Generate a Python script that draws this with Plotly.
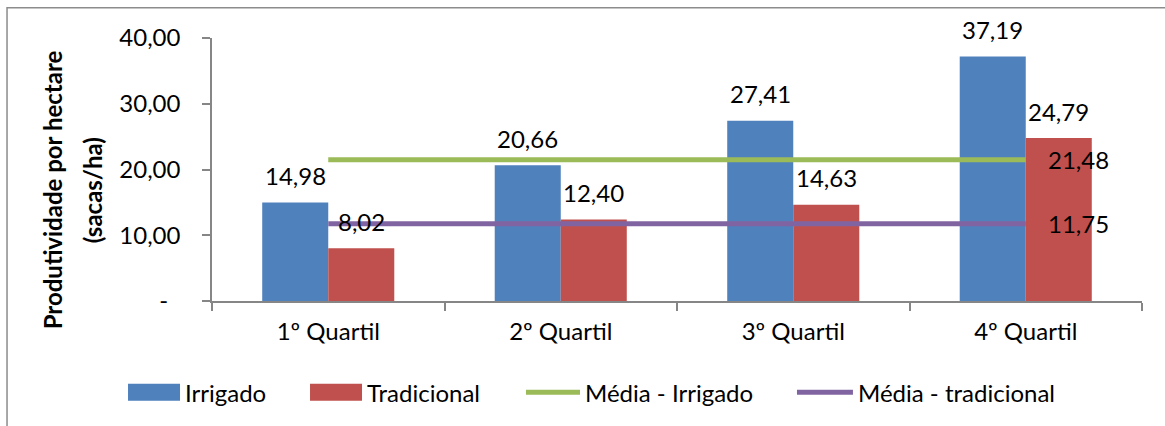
import plotly.graph_objects as go

categories = ["1º Quartil", "2º Quartil", "3º Quartil", "4º Quartil"]
irrigado = [14.98, 20.66, 27.41, 37.19]
tradicional = [8.02, 12.40, 14.63, 24.79]
media_irrigado = 21.48
media_tradicional = 11.75
y_tickvals = [0, 10, 20, 30, 40]
y_ticktext = ["-" + "\u00a0" * 2, "10,00", "20,00", "30,00", "40,00"]
y_title_lines = ["Produtividade por hectare", "(sacas/ha)"]

BLUE = "#4F81BD"
RED = "#C0504D"
GREEN = "#9BBB59"
PURPLE = "#8064A2"
AXIS = "#868686"
FONT = "Lato"
FS = 24


def fmt(v):
    return f"{v:.2f}".replace(".", ",")


fig = go.Figure()
fig.add_trace(go.Bar(x=categories, y=irrigado, name="Irrigado", marker_color=BLUE,
                     marker_line_width=0, showlegend=False))
fig.add_trace(go.Bar(x=categories, y=tradicional, name="Tradicional", marker_color=RED,
                     marker_line_width=0, showlegend=False))
fig.add_trace(go.Scatter(x=categories, y=[media_irrigado] * len(categories), mode="lines",
                         name="Média - Irrigado", line=dict(color=GREEN, width=5),
                         showlegend=False))
fig.add_trace(go.Scatter(x=categories, y=[media_tradicional] * len(categories), mode="lines",
                         name="Média - tradicional", line=dict(color=PURPLE, width=5),
                         showlegend=False))

annotations = []
label_font = dict(family=FONT, size=FS, color="#000000")
for c, v in zip(categories, irrigado):
    annotations.append(dict(x=c, y=v, text=fmt(v), showarrow=False, xref="x", yref="y",
                            xshift=-33, yshift=27, yanchor="middle", font=label_font))
for c, v in zip(categories, tradicional):
    annotations.append(dict(x=c, y=v, text=fmt(v), showarrow=False, xref="x", yref="y",
                            xshift=33, yshift=27, yanchor="middle", font=label_font))
for v in (media_irrigado, media_tradicional):
    annotations.append(dict(x=categories[-1], y=v, text=fmt(v), showarrow=False, xref="x",
                            yref="y", xanchor="left", xshift=20, yanchor="middle",
                            font=label_font))

# y-axis title (two rotated lines, Excel-like spacing)
for text, xp in zip(y_title_lines, (-0.172, -0.129)):
    annotations.append(dict(x=xp, y=0.421, xref="paper", yref="paper", text=f"<b>{text}</b>",
                            textangle=-90, showarrow=False, xanchor="center",
                            yanchor="middle",
                            font=dict(family=FONT, size=24, color="#000000")))

# custom legend (paper coordinates relative to plot area)
shapes = []
legend_items = [
    ("Irrigado", "rect", BLUE, -0.0903, -0.0344),
    ("Tradicional", "rect", RED, 0.1054, 0.1613),
    ("Média - Irrigado", "line", GREEN, 0.3376, 0.3957),
    ("Média - tradicional", "line", PURPLE, 0.6290, 0.6892),
]
ly = -0.347
for name, kind, color, x0, x1 in legend_items:
    if kind == "rect":
        shapes.append(dict(type="rect", xref="paper", yref="paper", x0=x0, x1=x1,
                           y0=ly - 0.032, y1=ly + 0.032, fillcolor=color, line_width=0))
    else:
        shapes.append(dict(type="line", xref="paper", yref="paper", x0=x0, x1=x1,
                           y0=ly, y1=ly, line=dict(color=color, width=5)))
    annotations.append(dict(x=x1, y=ly, xref="paper", yref="paper", text=name,
                            showarrow=False, xanchor="left", yanchor="middle", xshift=3,
                            font=label_font))

# outer chart border
shapes.append(dict(type="rect", xref="paper", yref="paper", x0=-0.2204, x1=1.03,
                   y0=-0.50, y1=1.115, line=dict(color="#8c8c8c", width=1.5),
                   fillcolor="rgba(0,0,0,0)"))

fig.update_layout(
    width=1165, height=426,
    margin=dict(l=212, r=23, t=38, b=125, autoexpand=False),
    paper_bgcolor="white", plot_bgcolor="white",
    barmode="group", bargap=0.432, bargroupgap=0,
    showlegend=False,
    font=dict(family=FONT, size=FS, color="#000000"),
    annotations=annotations,
    shapes=shapes,
    xaxis=dict(showline=True, linecolor=AXIS, linewidth=1.5, ticks="outside",
               tickson="boundaries", ticklen=8, tickcolor=AXIS, tickwidth=1.5,
               showgrid=False, automargin=False, ticklabelstandoff=8,
               tickfont=dict(family=FONT, size=FS, color="#000000")),
    yaxis=dict(range=[0, 40], tickvals=y_tickvals, ticktext=y_ticktext,
               showline=True, linecolor=AXIS, linewidth=1.5, ticks="outside",
               ticklen=8, tickcolor=AXIS, tickwidth=1.5, showgrid=False, zeroline=False,
               automargin=False, ticklabelstandoff=17,
               tickfont=dict(family=FONT, size=FS, color="#000000")),
)

fig.write_html("out.html", config={"displayModeBar": False},
               post_script="document.body.style.margin='0';document.body.style.overflow='hidden';")
